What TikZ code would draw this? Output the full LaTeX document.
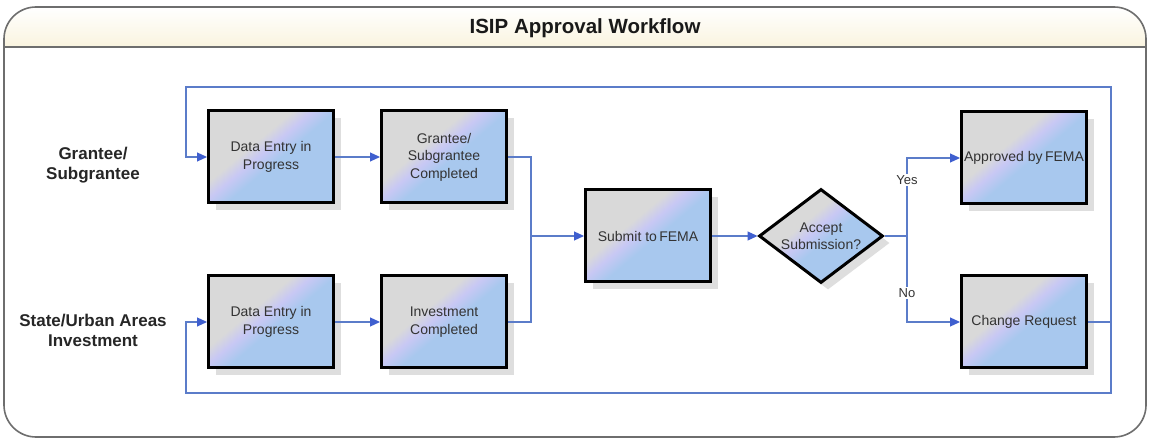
\documentclass[tikz,border=0pt]{standalone}
\usepackage{fontspec}
\setmainfont{Liberation Sans}
\usetikzlibrary{arrows.meta,shapes.geometric,shadows}
\definecolor{lineblue}{HTML}{5B7CC9}
\definecolor{tipblue}{HTML}{3F5FCF}
\definecolor{boxgray}{HTML}{D9D9D9}
\definecolor{boxlav}{HTML}{C8C8F4}
\definecolor{boxblue}{HTML}{A8C8EE}
\definecolor{framegray}{HTML}{6E6E6E}
\definecolor{titlecream}{HTML}{FAF4DF}
\definecolor{textgray}{HTML}{333333}
\definecolor{shadowgray}{HTML}{DEDEDE}
\pgfdeclareverticalshading{boxshade}{100bp}{color(0bp)=(boxblue); color(25bp)=(boxblue); color(47bp)=(boxblue); color(54bp)=(boxlav); color(60bp)=(boxgray); color(75bp)=(boxgray); color(100bp)=(boxgray)}
\begin{document}
\begin{tikzpicture}[x=1pt,y=-1pt,
  procbox/.style={rectangle, draw=black, line width=3pt, minimum width=125pt, minimum height=92pt,
    inner sep=2pt, shade, shading=boxshade, shading angle=40,
    general shadow={fill=shadowgray, shadow xshift=7pt, shadow yshift=-7pt},
    align=center, font=\fontsize{14}{17.5}\selectfont, text=textgray},
  decision/.style={diamond, draw=black, line width=3pt, minimum width=124pt, minimum height=94pt,
    aspect=1.3, inner sep=0pt, shade, shading=boxshade, shading angle=40,
    general shadow={fill=shadowgray, shadow xshift=7pt, shadow yshift=-7pt},
    align=center, font=\fontsize{14}{17}\selectfont, text=textgray},
  lane/.style={align=center, font=\fontsize{17}{20}\selectfont\bfseries, text=black!85},
  lbl/.style={fill=white, inner sep=1.5pt, font=\fontsize{13}{15}\selectfont, text=textgray},
  link/.style={draw=lineblue, line width=1.1pt},
  flow/.style={draw=lineblue, line width=1.1pt, -{Triangle[length=10pt,width=9pt,color=tipblue]}},
  frame/.style={draw=framegray, line width=1.6pt, rounded corners=32pt}
]
\useasboundingbox (0,0) rectangle (1149,438);
% frame
\fill[white] (0,0) rectangle (1149,438);
\begin{scope}
  \clip[rounded corners=32pt] (4,7) rectangle (1146,437);
  \shade[top color=white, bottom color=titlecream] (4,7) rectangle (1146,47);
\end{scope}
\draw[frame] (4,7) rectangle (1146,437);
\draw[framegray, line width=2.4pt] (4,47) -- (1146,47);
\node[font=\fontsize{20.5}{24}\selectfont\bfseries, text=black!90] (title) at (585,28) {ISIP Approval Workflow};

% lane labels
\node[lane] (laneA) at (93,165) {Grantee/\\Subgrantee};
\node[lane] (laneB) at (93,330) {State/Urban Areas\\Investment};

% nodes
\node[procbox] (b1) at (271,157) {Data Entry in\\Progress};
\node[procbox] (b2) at (444,157) {Grantee/\\Subgrantee\\Completed};
\node[procbox] (b3) at (271,322) {Data Entry in\\Progress};
\node[procbox] (b4) at (444,322) {Investment\\Completed};
\node[procbox] (sub) at (648,236) {Submit to\,FEMA};
\node[decision] (dec) at (821,236) {Accept\\Submission?};
\node[procbox] (app) at (1024,158) {Approved by\,FEMA};
\node[procbox] (chg) at (1024,322) {Change Request};

% coordinates
\coordinate (m) at (531,236);
\coordinate (br) at (907,236);
\coordinate (rj) at (1111,322);
\coordinate (rt) at (1111,87);
\coordinate (rb) at (1111,393);
\coordinate (lt) at (186,87);
\coordinate (lb) at (186,393);

% connectors
\draw[flow] (b1.east) -- (b2.west);
\draw[flow] (b3.east) -- (b4.west);
\draw[link] (b2.east) -| (m);
\draw[link] (b4.east) -| (m);
\draw[flow] (m) -- (sub.west);
\draw[flow] (sub.east) -- (dec.west);
\draw[link] (dec.east) -- (br);
\draw[flow] (br) |- node[lbl, pos=0.36] {Yes} (app.west);
\draw[flow] (br) |- node[lbl, pos=0.33] {No} (chg.west);
\draw[link] (chg.east) -- (rj);
\draw[flow] (rj) -- (rt) -- (lt) |- (b1.west);
\draw[flow] (rj) -- (rb) -- (lb) |- (b3.west);
\end{tikzpicture}
\end{document}
